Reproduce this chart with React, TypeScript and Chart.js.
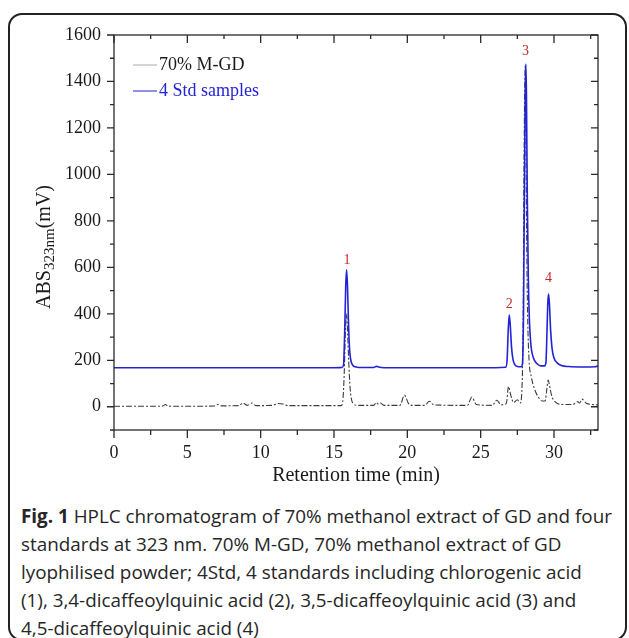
import React, { useEffect, useRef } from 'react';
import { Chart, registerables } from 'chart.js';
Chart.register(...registerables);

// ---- data ----
const stdTime = [0, 5, 10, 15, 15.55, 15.65, 15.72, 15.8, 15.86, 15.92, 15.98, 16.05, 16.12, 16.2, 16.3, 16.45, 16.7, 17.7, 17.9, 18.1, 18.4, 22, 26, 26.7, 26.8, 26.88, 26.95, 27.02, 27.1, 27.2, 27.32, 27.5, 27.75, 27.85, 27.92, 27.98, 28.04, 28.08, 28.12, 28.18, 28.25, 28.32, 28.42, 28.6, 28.85, 29.1, 29.35, 29.45, 29.52, 29.58, 29.63, 29.69, 29.77, 29.87, 30.0, 30.2, 30.5, 31, 32, 32.8, 32.95, 33];
const stdSignal = [168, 168, 168, 168, 169, 180, 300, 520, 590, 520, 380, 260, 210, 188, 177, 172, 169, 169, 174, 170, 168, 168, 168, 170, 200, 330, 395, 350, 260, 205, 182, 173, 172, 185, 400, 900, 1350, 1475, 1350, 900, 550, 380, 270, 210, 185, 176, 176, 190, 320, 450, 485, 440, 330, 250, 210, 190, 178, 173, 171, 172, 175, 172];

const extractTime = [0, 3, 3.35, 3.5, 3.65, 4, 6.8, 7.05, 7.3, 8.5, 8.8, 9.1, 9.4, 9.7, 10.8, 11.2, 11.5, 11.9, 15.5, 15.62, 15.7, 15.78, 15.85, 15.92, 16.0, 16.1, 16.2, 16.35, 16.6, 17.7, 17.9, 18.0, 18.15, 18.4, 19.5, 19.8, 20.1, 20.4, 21.2, 21.5, 21.8, 24.1, 24.4, 24.7, 25.8, 26.1, 26.4, 26.75, 26.9, 27.05, 27.25, 27.5, 27.7, 27.8, 27.9, 27.94, 27.99, 28.04, 28.08, 28.14, 28.2, 28.3, 28.45, 28.65, 28.9, 29.2, 29.4, 29.5, 29.6, 29.7, 29.85, 30.1, 30.5, 31.3, 31.6, 31.75, 31.9, 32.2, 32.6, 33];
const extractSignal = [2, 2, 4, 10, 4, 2, 3, 10, 4, 5, 16, 6, 16, 5, 6, 14, 12, 5, 5, 40, 150, 330, 400, 330, 200, 80, 30, 12, 6, 6, 18, 12, 17, 6, 6, 50, 12, 6, 6, 24, 8, 6, 42, 10, 6, 28, 8, 15, 87, 50, 18, 30, 16, 60, 400, 900, 1300, 1470, 1200, 700, 400, 200, 130, 80, 45, 25, 25, 70, 115, 90, 45, 20, 10, 10, 22, 16, 33, 15, 10, 8];

const seriesNames = ['70% M-GD', '4 Std samples'];
const xTickValues = [0, 5, 10, 15, 20, 25, 30];
const xMinorValues = [2.5, 7.5, 12.5, 17.5, 22.5, 27.5, 32.5];
const yTickValues = [0, 200, 400, 600, 800, 1000, 1200, 1400, 1600];
const yMinorValues = [-100, 100, 300, 500, 700, 900, 1100, 1300, 1500];
const peakNames = ['1', '2', '3', '4'];
const peakTime = [15.88, 26.95, 28.05, 29.62];
const peakLabelSignal = [632, 440, 1528, 552];

const SERIF = '"Liberation Serif", "Times New Roman", serif';
const AXIS = '#2a2a2a';
const BLUE = '#2323d6';

const decor = {
  id: 'decor',
  afterDraw(chart: any) {
    const { ctx, chartArea: a } = chart;
    const x = chart.scales.x;
    const y = chart.scales.y;
    ctx.save();
    ctx.strokeStyle = AXIS;
    ctx.lineWidth = 1.3;
    ctx.strokeRect(a.left, a.top, a.right - a.left, a.bottom - a.top);
    ctx.beginPath();
    const tick = (x1: number, y1: number, x2: number, y2: number) => { ctx.moveTo(x1, y1); ctx.lineTo(x2, y2); };
    yTickValues.forEach((v) => { const p = y.getPixelForValue(v); tick(a.left - 7, p, a.left, p); tick(a.right - 7, p, a.right, p); });
    yMinorValues.forEach((v) => { const p = y.getPixelForValue(v); tick(a.left - 4, p, a.left, p); tick(a.right - 4, p, a.right, p); });
    xTickValues.forEach((v) => { const p = x.getPixelForValue(v); tick(p, a.bottom, p, a.bottom + 8); tick(p, a.top, p, a.top + 8); });
    xMinorValues.forEach((v) => { const p = x.getPixelForValue(v); tick(p, a.bottom, p, a.bottom + 5); tick(p, a.top, p, a.top + 4); });
    ctx.stroke();

    // peak labels
    ctx.fillStyle = '#c8282d';
    ctx.font = '14px ' + SERIF;
    ctx.textAlign = 'center';
    ctx.textBaseline = 'middle';
    peakNames.forEach((n, i) => ctx.fillText(n, x.getPixelForValue(peakTime[i]), y.getPixelForValue(peakLabelSignal[i])));

    // legend
    const ds = chart.data.datasets;
    const legendOrder = [1, 0];
    ctx.textAlign = 'left';
    ctx.font = '18px ' + SERIF;
    legendOrder.forEach((di, row) => {
      const d = ds[di];
      const ly = a.top + 30 + row * 26;
      ctx.strokeStyle = row === 0 ? '#a8a8a8' : d.borderColor;
      ctx.lineWidth = 1;
      ctx.setLineDash([]);
      ctx.beginPath();
      ctx.moveTo(a.left + 19, ly);
      ctx.lineTo(a.left + 43, ly);
      ctx.stroke();
      ctx.fillStyle = row === 0 ? '#1a1a1a' : d.borderColor;
      ctx.fillText(d.label, a.left + 45, ly);
    });

    // x title
    ctx.fillStyle = '#1a1a1a';
    ctx.font = '20px ' + SERIF;
    ctx.textAlign = 'center';
    ctx.fillText('Retention time (min)', (a.left + a.right) / 2, a.bottom + 46);

    // y title with subscript
    ctx.translate(45, 247);
    ctx.rotate(-Math.PI / 2);
    const f1 = '20px ' + SERIF;
    const f2 = '15px ' + SERIF;
    ctx.font = f1;
    const w1 = ctx.measureText('ABS').width;
    const w3 = ctx.measureText('(mV)').width;
    ctx.font = f2;
    const w2 = ctx.measureText('323nm').width;
    let x0 = -(w1 + w2 + w3) / 2;
    ctx.textAlign = 'left';
    ctx.font = f1; ctx.fillText('ABS', x0, 0); x0 += w1;
    ctx.font = f2; ctx.fillText('323nm', x0, 5); x0 += w2;
    ctx.font = f1; ctx.fillText('(mV)', x0, 0);
    ctx.restore();
  },
};

export default function App() {
  const ref = useRef<HTMLCanvasElement>(null);
  useEffect(() => {
    document.body.style.margin = '0';
    const chart = new Chart(ref.current as HTMLCanvasElement, {
      type: 'line',
      data: {
        datasets: [
          {
            label: seriesNames[1],
            data: stdTime.map((t, i) => ({ x: t, y: stdSignal[i] })),
            borderColor: BLUE,
            borderWidth: 1.6,
            pointRadius: 0,
            cubicInterpolationMode: 'monotone',
            order: 0,
          },
          {
            label: seriesNames[0],
            data: extractTime.map((t, i) => ({ x: t, y: extractSignal[i] })),
            borderColor: '#3c3c3c',
            borderWidth: 1.1,
            borderDash: [6, 2, 2, 2],
            pointRadius: 0,
            cubicInterpolationMode: 'monotone',
            order: 1,
          },
        ],
      } as any,
      options: {
        animation: false,
        responsive: false,
        devicePixelRatio: 1,
        layout: { padding: { left: 0, right: 31, top: 35, bottom: 0 } },
        plugins: { legend: { display: false }, tooltip: { enabled: false } },
        scales: {
          x: {
            type: 'linear',
            min: 0,
            max: 33,
            afterBuildTicks: (s: any) => { s.ticks = xTickValues.map((v) => ({ value: v })); },
            afterFit: (s: any) => { s.height = 70; },
            grid: { display: false, drawTicks: false },
            border: { display: false },
            ticks: { padding: 12, color: '#1a1a1a', maxRotation: 0, autoSkip: false, callback: (v: any) => String(v), font: { family: SERIF, size: 18 } },
          },
          y: {
            type: 'linear',
            min: -100,
            max: 1600,
            afterBuildTicks: (s: any) => { s.ticks = yTickValues.map((v) => ({ value: v })); },
            afterFit: (s: any) => { s.width = 114; },
            grid: { display: false, drawTicks: false },
            border: { display: false },
            ticks: { padding: 13, color: '#1a1a1a', callback: (v: any) => String(v), font: { family: SERIF, size: 18 } },
          },
        },
      } as any,
      plugins: [decor],
    });
    return () => chart.destroy();
  }, []);

  return (
    <div style={{ position: 'relative', width: 629, height: 638, overflow: 'hidden', background: '#fff' }}>
      <div style={{ position: 'absolute', left: 8, top: 13, width: 615, height: 624, border: '2px solid #222', borderRadius: 14 }} />
      <canvas ref={ref} width={629} height={500} style={{ position: 'absolute', left: 0, top: 0, width: 629, height: 500 }} />
      <div style={{ position: 'absolute', left: 21, top: 502, fontFamily: '"Open Sans", sans-serif', fontSize: 18.85, lineHeight: '28px', color: '#262626', whiteSpace: 'nowrap' }}>
        <div><b>Fig. 1</b> HPLC chromatogram of 70% methanol extract of GD and four</div>
        <div>standards at 323 nm. 70% M-GD, 70% methanol extract of GD</div>
        <div>lyophilised powder; 4Std, 4 standards including chlorogenic acid</div>
        <div>(1), 3,4-dicaffeoylquinic acid (2), 3,5-dicaffeoylquinic acid (3) and</div>
        <div>4,5-dicaffeoylquinic acid (4)</div>
      </div>
    </div>
  );
}
